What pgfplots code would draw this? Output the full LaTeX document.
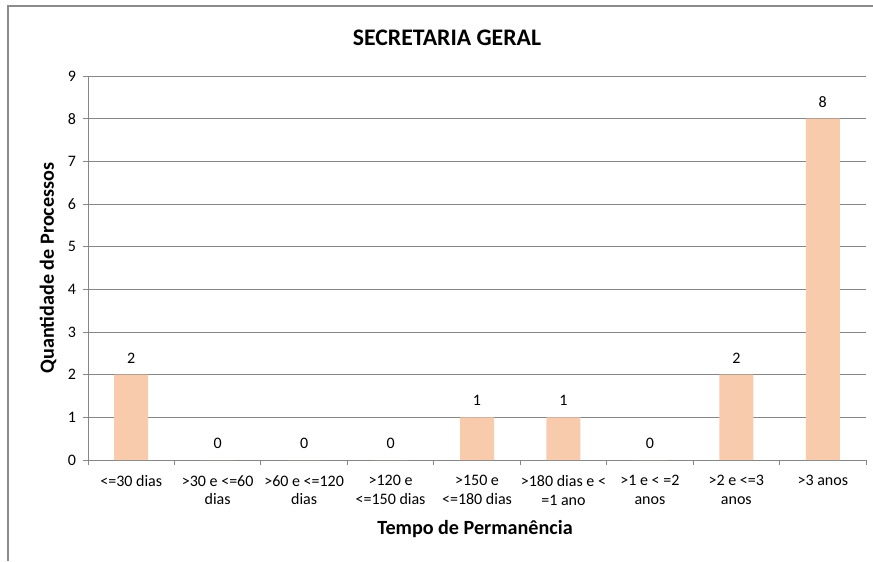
\documentclass[border=0pt]{standalone}
\usepackage{fontspec}
\setmainfont{Carlito}
\usepackage{pgfplots}
\pgfplotsset{compat=1.18}
\definecolor{barfill}{HTML}{F8CBAD}
\definecolor{gridgray}{HTML}{868686}
\definecolor{framegray}{HTML}{8C8C8C}
\begin{document}
\begin{tikzpicture}
\useasboundingbox (0,0) rectangle (654.75pt,420.75pt);
\draw[framegray, line width=1.5pt] (6pt,0pt) -- (6pt,416.25pt) -- (654.75pt,416.25pt);
\begin{axis}[
  at={(66pt,75.75pt)}, anchor=south west,
  scale only axis, width=583.5pt, height=288pt,
  xmin=-0.5, xmax=8.5, ymin=0, ymax=9,
  ytick={0,1,...,9},
  xtick={0,1,...,8},
  xticklabels={{<=30 dias},{>30 e <=60\\dias},{>60 e <=120\\dias},{>120 e\\<=150 dias},{>150 e\\<=180 dias},{>180 dias e <\\=1 ano},{>1 e < =2\\anos},{>2 e <=3\\anos},{>3 anos}},
  minor xtick={-0.5,0.5,...,8.5},
  axis x line*=bottom, axis y line*=left,
  axis line style={gridgray, line width=0.75pt, -},
  ymajorgrids, grid style={gridgray, line width=0.75pt},
  tick align=outside,
  major tick length=4pt,
  x tick style={draw=none},
  minor x tick style={draw=gridgray, line width=0.75pt},
  minor tick length=4pt,
  y tick style={gridgray, line width=0.75pt},
  /pgf/number format/assume math mode=true,
  ticklabel style={font=\fontsize{12}{14}\selectfont, text=black},
  xticklabel style={align=center, yshift=-4pt},
  yticklabel style={xshift=-1.5pt},
  ybar, bar width=25.5pt,
  nodes near coords,
  nodes near coords style={font=\fontsize{12}{14}\selectfont, text=black, yshift=5pt},
  clip=false,
]
\addplot[fill=barfill, draw=none] coordinates {(0,2) (1,0) (2,0) (3,0) (4,1) (5,1) (6,0) (7,2) (8,8)};
\end{axis}
\node[font=\fontsize{17.8}{21}\selectfont\bfseries] at (335.25pt,392.25pt) {SECRETARIA GERAL};
\node[font=\fontsize{15.1}{18}\selectfont\bfseries] at (356.25pt,24pt) {Tempo de Permanência};
\node[font=\fontsize{15.1}{18}\selectfont\bfseries, rotate=90] at (36pt,219.75pt) {Quantidade de Processos};
\end{tikzpicture}
\end{document}
